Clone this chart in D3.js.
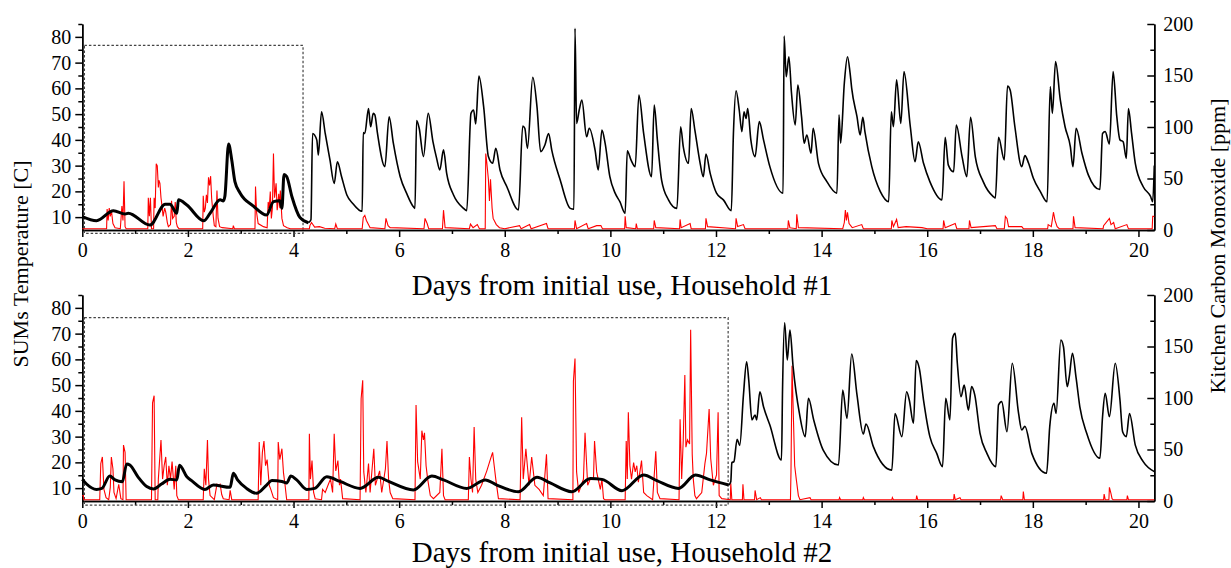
<!DOCTYPE html>
<html><head><meta charset="utf-8">
<script src="https://cdn.jsdelivr.net/npm/d3@7"></script>
<style>
html,body{margin:0;padding:0;background:#fff;}
svg{display:block;font-family:"Liberation Serif","Times New Roman",serif;}
svg text{font-family:"Liberation Serif","Times New Roman",serif;}
</style></head>
<body><svg id="chart" width="1231" height="568"></svg>
<script>
// ---------- DATA ----------
const xMajorTicks = [0,2,4,6,8,10,12,14,16,18,20];
const xMinorTicks = [1,3,5,7,9,11,13,15,17,19];
const tempTicks = [10,20,30,40,50,60,70,80];
const tempMinor = [15,25,35,45,55,65,75,85];
const coTicks = [0,50,100,150,200];
const coMinor = [25,75,125,175];

// Household #1: SUMs temperature [day, C], before (thick) and after stove use (thin)
const h1TempPre = [[0,10.2],[0.27,8.6],[0.59,12.5],[0.81,11.2],[0.87,11.5],[1.28,6.9],[1.57,15],[1.66,15],[1.79,11.5],[1.82,16.7],[1.98,14.7],[2.30,8.6],[2.42,11.5],[2.61,16.7],[2.67,16.3],[2.70,18.1],[2.77,38.4],[2.83,32.2],[2.89,23.8],[2.99,19.3],[3.24,14.3],[3.49,10.8],[3.62,16],[3.74,16.4],[3.78,13.4],[3.82,26.6],[3.87,25.8],[3.97,17.9],[4.12,9.9],[4.28,7.8]];
const h1TempPost = [[4.28,7.8],[4.33,9],[4.36,42.5],[4.44,40],[4.47,34.1],[4.53,50.9],[4.60,42.5],[4.69,32.2],[4.77,23.1],[4.83,31.5],[4.91,25.7],[5.01,18.6],[5.13,15.1],[5.26,12.5],[5.30,12.3],[5.32,42.8],[5.35,42.5],[5.42,52.2],[5.46,45.1],[5.51,50.3],[5.54,49.7],[5.59,42.5],[5.73,29.6],[5.81,49],[5.89,38.7],[6.02,25.7],[6.14,19.3],[6.27,14],[6.30,13.4],[6.33,47.5],[6.38,44.5],[6.46,33.5],[6.55,50.3],[6.64,39.3],[6.71,32.8],[6.77,28.3],[6.84,36.1],[6.90,27],[7.03,18.6],[7.22,13.4],[7.28,12.5],[7.36,50.3],[7.41,51.6],[7.45,46.2],[7.51,64.8],[7.60,52.9],[7.69,33.5],[7.77,30.9],[7.83,36.7],[7.91,28.3],[8.04,21.8],[8.26,12.8],[8.34,45.4],[8.38,44.5],[8.43,36.7],[8.53,64.3],[8.61,52.9],[8.68,35.4],[8.76,38],[8.83,42.5],[8.89,36],[9.05,24.4],[9.24,13.4],[9.31,13.1],[9.33,83.3],[9.36,46.4],[9.41,51.6],[9.46,55.5],[9.55,41.2],[9.60,44.5],[9.71,36],[9.77,28.3],[9.84,43.8],[9.90,38.7],[9.99,25.7],[10.09,19.3],[10.18,16],[10.28,11.5],[10.32,35.8],[10.39,32.2],[10.47,29.6],[10.54,57.4],[10.63,42.5],[10.78,25.7],[10.83,53.5],[10.89,40],[10.97,24.4],[11.10,16.7],[11.26,13.4],[11.33,45.1],[11.38,37.4],[11.48,30.9],[11.53,52.2],[11.60,43.8],[11.70,30.9],[11.76,25.7],[11.81,34.5],[11.89,27],[12.01,19.3],[12.14,16.7],[12.29,12.5],[12.33,42.5],[12.38,59.1],[12.44,51.6],[12.49,43.2],[12.53,50.9],[12.57,48.3],[12.60,52.2],[12.66,40],[12.74,33.5],[12.82,47.1],[12.90,40],[13.02,29.6],[13.27,19.3],[13.29,80.3],[13.33,64.5],[13.38,72.3],[13.43,58.1],[13.50,45.8],[13.55,61.3],[13.62,49],[13.67,38.7],[13.72,41.9],[13.80,34.8],[13.84,44.5],[13.94,30.9],[14.10,23.8],[14.29,19.3],[14.33,49.7],[14.36,38.7],[14.43,62],[14.49,72.3],[14.54,65.8],[14.57,60],[14.67,49],[14.73,41.9],[14.78,48.8],[14.82,43.2],[14.95,29.6],[15.11,20],[15.27,16],[15.32,50.9],[15.36,45.1],[15.42,63.3],[15.50,46.4],[15.56,66.5],[15.68,45.1],[15.77,31.5],[15.83,39.3],[15.93,30.9],[16.05,23.8],[16.28,16.7],[16.34,41],[16.40,30.2],[16.50,27.6],[16.55,45.8],[16.66,33.5],[16.75,25.7],[16.82,48.8],[16.91,33.5],[17.06,23.8],[17.25,18],[17.29,17.4],[17.35,41],[17.46,32.2],[17.52,60.9],[17.57,59.4],[17.66,45.1],[17.79,29.6],[17.85,33.9],[17.92,30.9],[18.01,25.1],[18.14,20],[18.27,16],[18.33,60.7],[18.37,50.3],[18.43,70.4],[18.52,55.5],[18.61,45.1],[18.71,37.4],[18.76,29.6],[18.82,44.5],[18.93,34.8],[19.05,26.4],[19.27,20.7],[19.32,42.5],[19.37,43.2],[19.45,38.4],[19.52,66.5],[19.59,49],[19.65,40],[19.71,39.3],[19.77,32.8],[19.81,52.2],[19.87,42.5],[19.94,30.9],[20.09,21.8],[20.23,18],[20.27,16],[20.30,30]];
// Household #1: kitchen CO [day, ppm]
const h1CO = [[0,0],[0.46,0],[0.47,19],[0.49,8],[0.51,20],[0.53,12],[0.55,18],[0.58,5],[0.62,1],[0.72,0],[0.75,22],[0.77,8],[0.79,46],[0.81,2],[0.83,0],[1.24,0],[1.25,30],[1.27,12],[1.29,30],[1.31,0],[1.35,0],[1.36,30],[1.38,20],[1.40,63],[1.42,61],[1.44,40],[1.45,47],[1.47,44],[1.49,30],[1.51,22],[1.53,12],[1.56,20],[1.58,16],[1.61,6],[1.63,2],[1.67,4],[1.69,27],[1.71,10],[1.74,12],[1.76,26],[1.78,6],[1.80,2],[1.83,0],[2.28,0],[2.29,32],[2.31,16],[2.33,20],[2.35,33],[2.37,25],[2.39,50],[2.41,42],[2.43,51],[2.45,29],[2.48,12],[2.50,3],[2.53,2],[2.55,37],[2.57,10],[2.60,2],[2.65,1],[2.85,0],[2.86,3],[2.88,0],[3.27,0],[3.28,41],[3.30,16],[3.33,5],[3.43,2],[3.50,1],[3.52,26],[3.54,20],[3.56,36],[3.58,10],[3.60,20],[3.62,73],[3.64,30],[3.65,34],[3.67,44],[3.69,18],[3.70,22],[3.72,34],[3.74,20],[3.75,37],[3.78,10],[3.81,3],[3.88,1],[3.94,0],[4.30,0],[4.31,3],[4.34,6],[4.40,1.5],[4.49,2],[4.59,0.5],[4.78,0],[4.80,4.5],[4.83,0],[5.30,0],[5.32,11],[5.35,13],[5.38,8],[5.45,1],[5.73,0],[5.75,10],[5.79,3],[5.83,1],[6.47,0],[6.49,10],[6.53,5],[6.56,0],[6.82,0],[6.84,18],[6.87,1],[7.33,0],[7.35,4.5],[7.40,1],[7.48,4],[7.52,0],[7.63,0],[7.64,73],[7.66,64],[7.69,48],[7.71,27],[7.73,48],[7.76,20],[7.78,10],[7.84,4],[7.90,1],[8.0,0],[8.28,3],[8.31,0],[8.47,4],[8.50,0],[8.79,5],[8.82,0],[9.32,0],[9.33,8],[9.36,0],[9.55,5],[9.58,0],[9.74,3],[9.82,3],[9.85,0],[10.27,0],[10.28,12],[10.30,1],[10.48,0],[10.49,5],[10.51,0],[10.82,0],[10.83,8],[10.86,1],[11.31,0],[11.32,9],[11.34,1],[11.51,5],[11.53,0],[11.80,0],[11.81,10],[11.84,2],[12.37,0],[12.38,10],[12.41,2],[12.52,4],[12.55,0],[13.36,0],[13.37,8],[13.40,1],[13.52,0],[13.53,14],[13.56,1],[14.40,0],[14.43,6],[14.45,18],[14.47,8],[14.49,16],[14.52,5],[14.58,1],[14.76,4],[14.79,0],[15.32,0],[15.33,8],[15.36,2],[15.42,9],[15.45,1],[15.6,2],[15.9,1],[16.0,0],[16.30,0],[16.31,8],[16.34,1],[16.53,5],[16.56,0],[16.79,0],[16.80,8],[16.83,1],[17.29,3],[17.32,0],[17.46,0],[17.48,12],[17.51,10],[17.54,2],[17.79,2],[17.82,0],[18.28,0],[18.29,4],[18.35,2],[18.39,16],[18.42,8],[18.46,2],[18.50,0],[18.76,0],[18.77,12],[18.80,1],[19.33,0],[19.34,3],[19.45,10],[19.48,4],[19.53,6],[19.56,0],[19.78,4],[19.81,0],[20.26,0],[20.27,12],[20.3,12]];

// Household #2
const h2TempPre = [[0,13.4],[0.08,11.6],[0.27,9.5],[0.37,9.9],[0.52,14.7],[0.62,13.2],[0.76,12.5],[0.84,19.4],[0.90,19],[1.06,14.2],[1.22,10.6],[1.35,9.7],[1.50,11.6],[1.66,13.4],[1.79,13.2],[1.84,18.9],[1.98,14.4],[2.07,12.9],[2.32,9.5],[2.48,11.2],[2.80,10.3],[2.86,15.8],[2.94,13.2],[3.11,9.9],[3.30,8],[3.49,11.2],[3.59,13],[3.78,12.6],[3.87,12],[3.95,14.7],[4.06,13.2],[4.25,9.5],[4.40,9.9],[4.63,14.4],[4.88,12.6],[5.26,9.9],[5.61,14.2],[5.80,12.6],[6.27,9.3],[6.62,14.7],[6.84,13.2],[7.28,9.9],[7.63,13.2],[7.85,11.2],[8.26,8.6],[8.61,14.2],[8.86,12],[9.27,8.6],[9.62,13.7],[9.84,13.4],[10.22,9],[10.63,15.1],[10.88,12.9],[11.29,9.9],[11.61,15.1],[11.89,13.2],[12.24,11.2]];
const h2TempPost = [[12.24,11.2],[12.28,12.5],[12.30,19.9],[12.34,20.3],[12.40,29],[12.45,26.6],[12.52,46.2],[12.58,59.1],[12.62,52],[12.68,36.5],[12.74,38.4],[12.77,36.5],[12.83,47.4],[12.90,41.6],[13.02,34.5],[13.24,20.9],[13.26,48.1],[13.30,74.2],[13.35,59.8],[13.40,71.4],[13.46,57.2],[13.58,39],[13.69,30],[13.75,44.9],[13.85,36.5],[14.03,24.8],[14.32,19],[14.40,48.1],[14.48,37.1],[14.57,62.1],[14.67,46.2],[14.79,31],[14.84,34.9],[14.98,26.1],[15.33,17],[15.39,39],[15.52,30],[15.61,47.4],[15.66,44.2],[15.74,35.2],[15.79,59.5],[15.85,56.5],[15.93,44.2],[16.05,30],[16.18,23.5],[16.29,18.3],[16.35,44.9],[16.43,36.5],[16.48,68.2],[16.53,70.1],[16.57,58.5],[16.64,45.5],[16.70,50],[16.78,40.3],[16.84,49.4],[16.90,46.2],[17.00,31.3],[17.13,23.5],[17.30,18.3],[17.35,42.3],[17.41,43.6],[17.51,31.9],[17.61,58.5],[17.73,39],[17.79,32.6],[17.85,34],[17.98,23.5],[18.26,15.8],[18.32,33.9],[18.40,42.9],[18.44,39],[18.53,67.5],[18.58,64.9],[18.65,49.4],[18.69,53.3],[18.75,62.4],[18.82,52.7],[18.89,41.6],[19.02,31.3],[19.27,21.6],[19.32,37.7],[19.37,46.8],[19.45,37.7],[19.56,58.5],[19.65,44.2],[19.70,31.9],[19.77,30],[19.83,39],[19.94,26.7],[20.09,20.3],[20.30,16.4]];
const h2CO = [[0,4],[0.02,4],[0.03,0],[0.33,0],[0.35,35],[0.38,41.5],[0.41,10],[0.45,2],[0.50,0],[0.53,12],[0.55,41.5],[0.58,30],[0.60,7],[0.64,1],[0.69,15],[0.73,1],[0.77,0],[0.78,53],[0.81,46],[0.83,0],[1.31,0],[1.33,94],[1.36,101],[1.38,0],[1.43,0],[1.44,20],[1.47,43],[1.49,58],[1.52,20],[1.55,33],[1.58,41.5],[1.61,14],[1.64,33],[1.67,20],[1.70,37],[1.74,10],[1.77,33],[1.79,4],[1.82,0],[2.29,0],[2.31,30],[2.34,14],[2.37,58],[2.39,20],[2.42,4],[2.50,0],[2.55,15],[2.58,14],[2.61,15],[2.64,5],[2.67,1],[2.78,0],[2.80,9],[2.83,0],[3.33,0],[3.35,56],[3.38,14],[3.41,46],[3.44,57],[3.47,33],[3.50,39],[3.54,14],[3.57,10],[3.62,2],[3.70,0],[3.71,56],[3.74,39],[3.78,49.5],[3.81,26],[3.84,14],[3.87,0],[4.29,0],[4.30,64],[4.32,20],[4.35,38],[4.38,7],[4.41,1],[4.53,0],[4.55,10],[4.60,7],[4.66,15],[4.70,20],[4.74,7],[4.77,64],[4.80,28],[4.84,38],[4.87,14],[4.89,20],[4.93,1],[5.26,0],[5.28,98],[5.31,116],[5.33,27],[5.37,7],[5.42,35],[5.45,7],[5.52,49.5],[5.55,14],[5.63,28],[5.67,7],[5.74,30],[5.77,57],[5.80,20],[5.83,7],[5.88,1],[6.30,0],[6.32,92],[6.35,37],[6.40,20],[6.43,67],[6.46,58],[6.48,65],[6.51,33],[6.54,20],[6.59,4],[6.65,1],[6.77,7],[6.81,49.5],[6.84,4],[6.87,0],[7.31,0],[7.33,41.5],[7.36,20],[7.39,7],[7.42,70.5],[7.45,20],[7.49,7],[7.56,14],[7.66,28],[7.72,38],[7.77,46],[7.80,33],[7.83,20],[7.88,1],[8.29,0],[8.32,80],[8.35,20],[8.40,49.5],[8.46,14],[8.51,41.5],[8.57,14],[8.65,10],[8.73,4],[8.79,44],[8.82,1],[9.29,0],[9.30,115],[9.33,137],[9.36,27],[9.40,7],[9.49,20],[9.52,65],[9.57,14],[9.62,20],[9.68,20],[9.70,57],[9.74,27],[9.81,10],[9.84,20],[9.87,1],[9.90,0],[10.28,0],[10.30,57],[10.32,20],[10.34,85],[10.37,33],[10.40,20],[10.44,36],[10.47,27],[10.50,33],[10.53,17],[10.59,38],[10.63,7],[10.69,4],[10.80,0],[10.86,47],[10.89,7],[10.94,1],[11.30,0],[11.32,78],[11.35,20],[11.38,58],[11.41,121],[11.43,51],[11.46,58],[11.50,54],[11.52,165],[11.55,44],[11.57,20],[11.60,4],[11.63,1],[11.73,7],[11.79,35],[11.82,45],[11.87,88],[11.90,40],[11.95,14],[12.01,24],[12.04,85],[12.06,4],[12.11,1],[12.27,0],[12.28,16],[12.30,0],[12.50,0],[12.51,15],[12.53,0],[12.73,0],[12.74,9],[12.77,0],[12.84,2],[12.86,0],[13.41,0],[13.42,27],[13.44,130],[13.47,72],[13.49,33],[13.52,20],[13.56,4],[13.59,0],[13.78,2],[13.80,0],[14.33,0],[14.34,2],[14.36,0],[14.78,0],[14.79,2],[14.81,0],[15.33,0],[15.34,2],[15.36,0],[15.79,0],[15.80,4],[15.82,0],[16.50,0],[16.51,5.5],[16.53,0],[16.62,2],[16.64,0],[17.39,0],[17.40,4],[17.43,0],[17.81,0],[17.82,8],[17.84,0],[19.34,0],[19.35,5.5],[19.37,0],[19.44,0],[19.45,12],[19.48,6],[19.50,1],[19.52,0],[19.78,0],[19.79,4],[19.81,0],[20.3,0]];

// pre-use boxes [x0,x1,tempLow,tempHigh]
const h1Box = [0.04, 4.18, 3.7, 76.7];
const h2Box = [0.04, 12.23, 3.4, 76.2];

// ---------- DRAW ----------
const svg = d3.select("#chart");
const x = d3.scaleLinear().domain([0, 20.3]).range([82.3, 1154.3]);
const FONT = 20;
const FAMILY = '"Liberation Serif","Times New Roman",serif';

function panel(top, bottom, pre, post, co, box, title, titleY) {
  const yT = d3.scaleLinear().domain([5, 85]).range([bottom, top]);
  const yC = d3.scaleLinear().domain([0, 200]).range([bottom, top]);
  const g = svg.append("g");

  const style = sel => {
    sel.attr("font-family", FAMILY).attr("font-size", FONT);
    sel.selectAll("path,line").attr("stroke", "#000").attr("stroke-width", 1.5);
    sel.selectAll("text").style("font-size", FONT + "px").style("font-family", FAMILY).attr("fill", "#000");
  };
  g.append("g").attr("transform", `translate(${x(0)},0)`)
    .call(d3.axisLeft(yT).tickValues(tempTicks).tickSize(7).tickSizeOuter(0).tickPadding(4))
    .call(style);
  g.append("g").attr("transform", `translate(${x(0)},0)`)
    .call(d3.axisLeft(yT).tickValues(tempMinor).tickSize(4).tickSizeOuter(0).tickFormat(""))
    .call(style);
  g.append("g").attr("transform", `translate(${x(20.3)},0)`)
    .call(d3.axisRight(yC).tickValues(coTicks).tickSizeInner(-7).tickSizeOuter(0).tickPadding(9))
    .call(style);
  g.append("g").attr("transform", `translate(${x(20.3)},0)`)
    .call(d3.axisRight(yC).tickValues(coMinor).tickSizeInner(-4).tickSizeOuter(0).tickFormat(""))
    .call(style);
  g.append("g").attr("transform", `translate(0,${bottom})`)
    .call(d3.axisBottom(x).tickValues(xMajorTicks).tickSize(7).tickSizeOuter(0).tickPadding(6))
    .call(style);
  g.append("g").attr("transform", `translate(0,${bottom})`)
    .call(d3.axisBottom(x).tickValues(xMinorTicks).tickSize(4).tickSizeOuter(0).tickFormat(""))
    .call(style);

  // dashed box
  g.append("rect")
    .attr("x", x(box[0])).attr("y", yT(box[3]))
    .attr("width", x(box[1]) - x(box[0])).attr("height", yT(box[2]) - yT(box[3]))
    .attr("fill", "none").attr("stroke", "#444").attr("stroke-width", 1.2)
    .attr("stroke-dasharray", "2.5,2");

  const lineT = d3.line().curve(d3.curveMonotoneX).x(d => x(d[0])).y(d => yT(d[1]));
  const lineC = d3.line().x(d => x(d[0])).y(d => yC(d[1]));

  g.append("path").datum(co).attr("d", lineC).attr("transform", "translate(0,-1.3)")
    .attr("fill", "none").attr("stroke", "#ff0000").attr("stroke-width", 1.1);
  g.append("path").datum(pre).attr("d", lineT)
    .attr("fill", "none").attr("stroke", "#000").attr("stroke-width", 3)
    .attr("stroke-linejoin", "round");
  g.append("path").datum(post).attr("d", lineT)
    .attr("fill", "none").attr("stroke", "#000").attr("stroke-width", 1.6)
    .attr("stroke-linejoin", "round");

  svg.append("text").attr("x", 622).attr("y", titleY)
    .attr("text-anchor", "middle").attr("font-size", 29).attr("font-family", FAMILY).text(title);
}

panel(24, 230, h1TempPre, h1TempPost, h1CO, h1Box, "Days from initial use, Household #1", 295);
panel(295, 501, h2TempPre, h2TempPost, h2CO, h2Box, "Days from initial use, Household #2", 562);

svg.append("text").attr("transform", "translate(28,264) rotate(-90)")
  .attr("text-anchor", "middle").attr("font-size", 22).attr("font-family", FAMILY).text("SUMs Temperature [C]");
svg.append("text").attr("transform", "translate(1210,246) rotate(-90)")
  .attr("text-anchor", "middle").attr("dy", "0.7em").attr("font-size", 22).attr("font-family", FAMILY).text("Kitchen Carbon Monoxide [ppm]");
</script></body></html>
